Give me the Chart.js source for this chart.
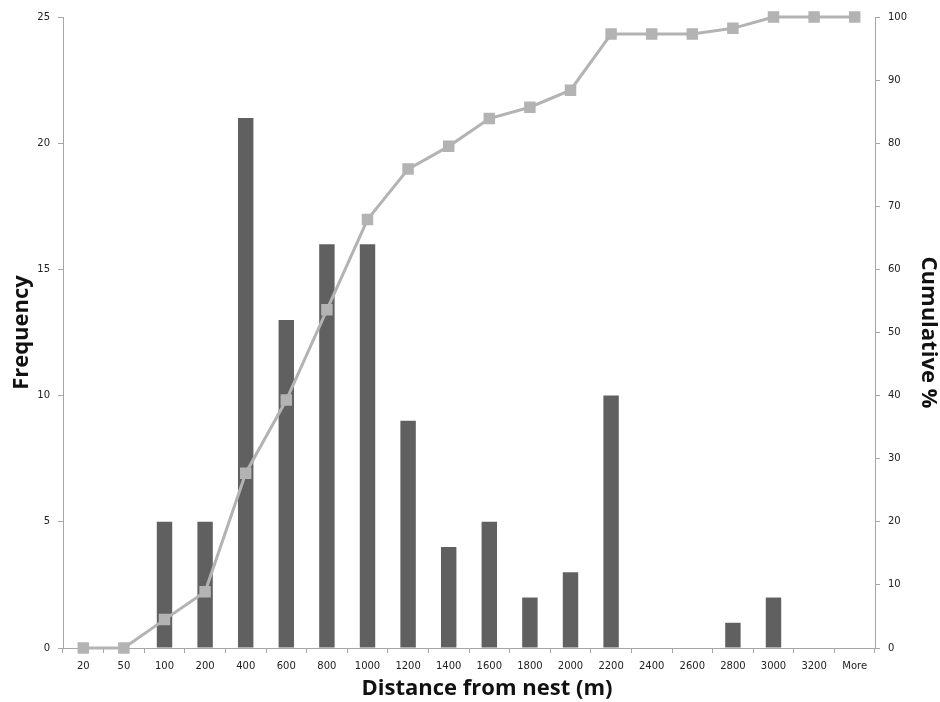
<!DOCTYPE html>
<html>
<head>
<meta charset="utf-8">
<script src="https://cdn.jsdelivr.net/npm/chart.js@4"></script>
<style>
html,body{margin:0;padding:0;background:#fff;}
#wrap{width:940px;height:702px;position:relative;}
</style>
</head>
<body>
<div id="wrap"><canvas id="c" width="940" height="702"></canvas></div>
<script>
const categories = ["20","50","100","200","400","600","800","1000","1200","1400","1600","1800","2000","2200","2400","2600","2800","3000","3200","More"];
const frequency = [0,0,5,5,21,13,16,16,9,4,5,2,3,10,0,0,1,2,0,0];
const cumulative = [0,0,4.5,8.9,27.7,39.3,53.6,67.9,75.9,79.5,83.9,85.7,88.4,97.3,97.3,97.3,98.2,100,100,100];
const freqTicks = [0,5,10,15,20,25];
const cumTicks = [0,10,20,30,40,50,60,70,80,90,100];
const xTitle = 'Distance from nest (m)';

const axisColor = '#a6a6a6';
const tickFont = {family:'DejaVu Sans', size:10};
const titleFont = {family:'Open Sans', size:22, weight:'bold', lineHeight:1};

const xTitlePlugin = {
  id:'xTitle',
  afterDraw(chart){
    const ctx = chart.ctx, a = chart.chartArea;
    ctx.save();
    ctx.font = 'bold 22px "Open Sans"';
    ctx.fillStyle = '#111';
    ctx.textAlign = 'center';
    ctx.textBaseline = 'middle';
    ctx.fillText(xTitle, (a.left + a.right)/2 + 18, a.bottom + 41);
    ctx.restore();
  }
};

new Chart(document.getElementById('c'), {
  type: 'bar',
  data: {
    labels: categories,
    datasets: [
      {
        type:'line', label:'Cumulative %', data: cumulative, yAxisID:'y1', order:0, clip:false,
        borderColor:'#b3b3b3', backgroundColor:'#b3b3b3', borderWidth:3,
        pointStyle:'rect', pointRadius:6, pointHoverRadius:6, tension:0
      },
      {
        type:'bar', label:'Frequency', data: frequency, yAxisID:'y', order:1,
        backgroundColor:'#606060', barPercentage:0.38, categoryPercentage:1.0
      }
    ]
  },
  plugins:[xTitlePlugin],
  options: {
    responsive:false, animation:false,
    layout:{padding:{top:17,left:0,right:0,bottom:0}},
    plugins:{legend:{display:false}, tooltip:{enabled:false}},
    scales:{
      x:{
        grid:{display:true, drawOnChartArea:false, drawTicks:true, tickLength:5, color:axisColor, offset:true},
        border:{display:true, color:axisColor, width:1},
        ticks:{font:tickFont, color:'#222', padding:7, maxRotation:0, autoSkip:false},
        title:{display:false},
        afterFit(s){ s.height = 54; }
      },
      y:{
        position:'left', min:0, max:25,
        afterBuildTicks(s){ s.ticks = freqTicks.map(v=>({value:v})); },
        grid:{display:true, drawOnChartArea:false, drawTicks:true, tickLength:5, color:axisColor},
        border:{display:true, color:axisColor, width:1},
        ticks:{font:tickFont, color:'#222', padding:8},
        title:{display:true, text:'Frequency', font:titleFont, color:'#111', padding:{top:11,bottom:0}},
        afterFit(s){ s.width = 63; }
      },
      y1:{
        position:'right', min:0, max:100,
        afterBuildTicks(s){ s.ticks = cumTicks.map(v=>({value:v})); },
        grid:{display:true, drawOnChartArea:false, drawTicks:true, tickLength:5, color:axisColor},
        border:{display:true, color:axisColor, width:1},
        ticks:{font:tickFont, color:'#222', padding:8},
        title:{display:true, text:'Cumulative %', font:titleFont, color:'#111', padding:{top:1,bottom:0}},
        afterFit(s){ s.width = 65; }
      }
    }
  }
});
</script>
</body>
</html>
